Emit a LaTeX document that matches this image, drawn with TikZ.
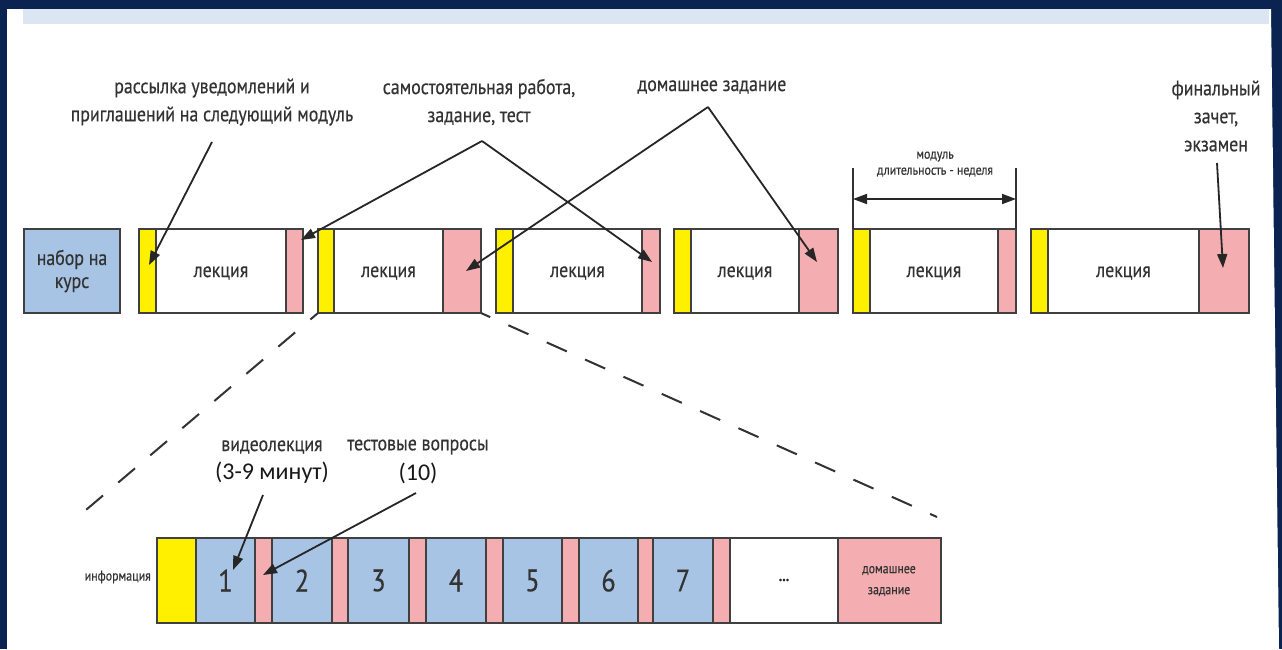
\documentclass[tikz,border=0pt]{standalone}
\usepackage{fontspec}
\setmainfont{PT Sans}[FakeStretch=0.85,FakeBold=0.4]
\newfontfamily\calfont{Carlito}
\usetikzlibrary{arrows.meta,calc}
\definecolor{navy}{HTML}{0B2350}
\definecolor{topbar}{HTML}{DCE6F2}
\definecolor{cblue}{HTML}{A7C4E4}
\definecolor{cyel}{HTML}{FFF000}
\definecolor{cpink}{HTML}{F4AEB1}
\definecolor{edge}{HTML}{404040}
\definecolor{txt}{HTML}{333333}
\newcommand\mymodule[5]{%
  \node[part, fill=white, minimum width={(#5-#2)*1pt}] (#1) at ({(#2+#5)/2},271) {};
  \node[part, fill=cyel, minimum width={(#3-#2)*1pt}] (#1y) at ({(#2+#3)/2},271) {};
  \node[part, fill=cpink, minimum width={(#5-#4)*1pt}] (#1p) at ({(#4+#5)/2},271) {};
  \node[lbl] (#1t) at ({(#3+#4)/2},273) {лекция};
}
\newcommand\mybbox[5]{%
  \node[bpart, fill=#4, minimum width={(#3-#2)*1pt}] (#1) at ({(#2+#3)/2},580.5) {#5};
}
\begin{document}
\begin{tikzpicture}[x=1pt,y=-1pt,
  part/.style={draw=edge, line width=2pt, inner sep=0pt, outer sep=0pt, minimum height=84pt},
  bpart/.style={draw=edge, line width=2pt, inner sep=0pt, outer sep=0pt, minimum height=85pt, text=black!80, font=\fontsize{31}{32}\selectfont},
  lbl/.style={text=txt, font=\fontsize{21}{28}\selectfont, align=center, inner sep=0pt},
  small/.style={text=txt, font=\fontsize{14}{16}\selectfont, align=center, inner sep=0pt},
  arr/.style={line width=1.8pt, draw=black!85, -{Triangle[length=14pt,width=10pt]}},
  dimarr/.style={line width=1.8pt, draw=black!85, {Triangle[length=14pt,width=10pt]}-{Triangle[length=14pt,width=10pt]}},
  guide/.style={line width=1.3pt, draw=black!80},
  zoomline/.style={line width=2pt, draw=black!80, dash pattern=on 22pt off 20pt}
]
\useasboundingbox (0,0) rectangle (1282,649);
\fill[navy] (0,0) rectangle (1282,649);
\fill[white] (7,9) -- (1271,9) -- (1279,649) -- (7,649) -- cycle;
\fill[topbar] (23,9) rectangle (1269,24);

% top row
\node[part, fill=cblue, minimum width=96pt, text=txt, align=center,
      font=\fontsize{21}{23}\selectfont] (nabor) at (72,271) {набор на\\курс};
\mymodule{m1}{139}{156}{286}{303}
\mymodule{m2}{318}{334}{443}{481}
\mymodule{m3}{496}{513}{642}{660}
\mymodule{m4}{674}{691}{799}{838}
\mymodule{m5}{853}{870}{998}{1016}
\mymodule{m6}{1031}{1048}{1199}{1249}

% top labels
\node[lbl] (lrass) at (212,102) {рассылка уведомлений и\\приглашений на следующий модуль};
\node[lbl] (lsam) at (479,102) {самостоятельная работа,\\задание, тест};
\node[lbl] (ldom) at (712,87) {домашнее задание};
\node[lbl] (lfin) at (1216,116) {финальный\\зачет,\\экзамен};
\node[small] (lmod) at (935,164) {модуль\\длительность - неделя};

% top arrows
\coordinate (a1s) at (212,142);
\coordinate (a1e) at (149,265);
\coordinate (a2s) at (482,141);
\coordinate (a2e) at (301,240);
\coordinate (a3e) at (652,262);
\coordinate (a4s) at (708,107);
\coordinate (a4e) at (466,271);
\coordinate (a5e) at (817,262);
\coordinate (a6s) at (1217,163);
\coordinate (a6e) at (1223,268);
\draw[arr] (a1s) -- (a1e);
\draw[arr] (a2s) -- (a2e);
\draw[arr] (a2s) -- (a3e);
\draw[arr] (a4s) -- (a4e);
\draw[arr] (a4s) -- (a5e);
\draw[arr] (a6s) -- (a6e);

% dimension
\coordinate (d1) at (853,168);
\coordinate (d2) at (1016,168);
\draw[guide] (m5.north west) -- (d1);
\draw[guide] (m5.north east) -- (d2);
\coordinate (d3) at (853,199);
\coordinate (d4) at (1016,199);
\draw[dimarr] (d3) -- (d4);

% zoom lines
\coordinate (zl) at (80,515);
\coordinate (zr) at (937,517);
\draw[zoomline, dash phase=12pt] (m2.south west) -- (zl);
\draw[zoomline, dash phase=12pt] (m2.south east) -- (zr);

% bottom row
\mybbox{binfo}{157}{196}{cyel}{}
\mybbox{b1}{196}{255}{cblue}{1}
\mybbox{p1}{255}{272}{cpink}{}
\mybbox{b2}{272}{332}{cblue}{2}
\mybbox{p2}{332}{348}{cpink}{}
\mybbox{b3}{348}{409}{cblue}{3}
\mybbox{p3}{409}{426}{cpink}{}
\mybbox{b4}{426}{486}{cblue}{4}
\mybbox{p4}{486}{503}{cpink}{}
\mybbox{b5}{503}{562}{cblue}{5}
\mybbox{p5}{562}{579}{cpink}{}
\mybbox{b6}{579}{638}{cblue}{6}
\mybbox{p6}{638}{653}{cpink}{}
\mybbox{b7}{653}{713}{cblue}{7}
\mybbox{p7}{713}{730}{cpink}{}
\mybbox{bdots}{730}{838}{white}{}
\mybbox{bhw}{838}{941}{cpink}{}
\node[text=black!85, font=\bfseries\fontsize{16}{16}\selectfont] (dots) at (784,580) {...};
\node[small, font=\fontsize{14}{21}\selectfont] (hwt) at (889,581) {домашнее\\задание};
\node[small, font=\fontsize{14}{14}\selectfont, anchor=east] (info) at (151,577) {информация};

% bottom labels
\node[lbl] (lvid) at (272,447) {видеолекция};
\node[text=black!90, font=\calfont\fontsize{24}{24}\selectfont, inner sep=0pt] (lvid2) at (272,473) {(3-9 минут)};
\node[lbl] (ltest) at (418,447) {тестовые вопросы};
\node[text=black!90, font=\calfont\fontsize{24}{24}\selectfont, inner sep=0pt] (ltest2) at (418,473) {(10)};
\coordinate (b1s) at (263,495);
\coordinate (b1e) at (233,570);
\coordinate (b2s) at (416,493);
\coordinate (b2e) at (263,575);
\draw[arr] (b1s) -- (b1e);
\draw[arr] (b2s) -- (b2e);
\end{tikzpicture}
\end{document}
